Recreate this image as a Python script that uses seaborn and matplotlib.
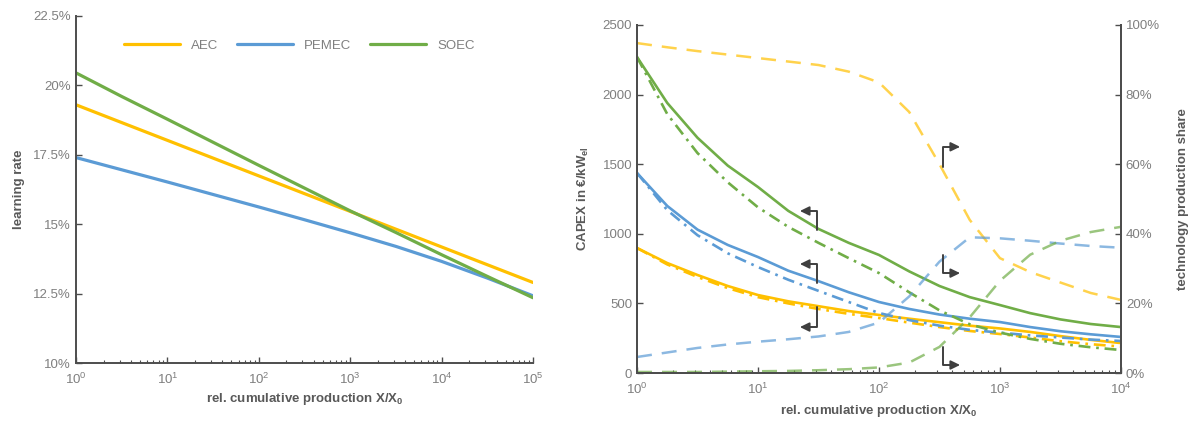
import numpy as np
import pandas as pd
import matplotlib
matplotlib.use("Agg")
import matplotlib.pyplot as plt
import seaborn as sns
from matplotlib.ticker import FuncFormatter, LogLocator, NullFormatter

# ---------------- data ----------------
techs = ["AEC", "PEMEC", "SOEC"]
tech_colors = ["#FFC000", "#5B9BD5", "#70AD47"]

# left panel: learning rate vs. relative cumulative production (log10 exponent)
lr_log_x = [0, 0.5, 1, 1.5, 2, 2.5, 3, 3.5, 4, 4.5, 5]
lr_aec = [19.3, 18.66, 18.02, 17.38, 16.74, 16.1, 15.46, 14.82, 14.18, 13.54, 12.9]
lr_pemec = [17.4, 16.96, 16.52, 16.07, 15.62, 15.16, 14.69, 14.2, 13.66, 13.06, 12.42]
lr_soec = [20.45, 19.6, 18.78, 17.95, 17.12, 16.3, 15.48, 14.7, 13.9, 13.12, 12.35]
lr_yticks = [10, 12.5, 15, 17.5, 20, 22.5]

# right panel
cx_log_x = [0, 0.25, 0.5, 0.75, 1, 1.25, 1.5, 1.75, 2, 2.25, 2.5, 2.75, 3, 3.25, 3.5, 3.75, 4]
capex_aec = [898, 790, 704, 625, 560, 515, 480, 445, 417, 390, 365, 340, 320, 295, 265, 238, 215]
capex_aec_alt = [898, 780, 690, 610, 545, 500, 460, 425, 395, 362, 330, 302, 280, 255, 228, 207, 190]
capex_pemec = [1437, 1200, 1030, 920, 833, 735, 660, 580, 510, 460, 420, 390, 366, 330, 300, 278, 259]
capex_pemec_alt = [1437, 1170, 990, 860, 761, 670, 590, 510, 431, 380, 340, 310, 290, 270, 255, 240, 230]
capex_soec = [2270, 1940, 1690, 1490, 1336, 1165, 1035, 935, 848, 730, 625, 545, 488, 430, 385, 352, 330]
capex_soec_alt = [2270, 1860, 1580, 1370, 1190, 1050, 935, 825, 718, 580, 450, 350, 290, 245, 210, 185, 165]
share_aec = [94.8, 93.6, 92.5, 91.5, 90.5, 89.5, 88.5, 86.6, 83.5, 75, 60, 44, 33, 29, 26, 23, 21]
share_pemec = [4.6, 5.9, 7.2, 8.2, 9, 9.7, 10.5, 11.8, 14.5, 22, 32, 39, 38.7, 38, 37.2, 36.5, 36]
share_soec = [0.3, 0.3, 0.3, 0.4, 0.5, 0.6, 0.8, 1.1, 1.6, 3, 7.5, 16, 26.5, 34, 38, 40.5, 42]
capex_yticks = [0, 500, 1000, 1500, 2000, 2500]
share_yticks = [0, 20, 40, 60, 80, 100]

# ---------------- style ----------------
sns.set_theme(style="ticks")
plt.rcParams["font.family"] = ["Liberation Sans", "DejaVu Sans"]
plt.rcParams["mathtext.default"] = "regular"
TXT = "#7F7F7F"
LBL = "#595959"
SPN = "#4D4D4D"
FS = 9.5

fig = plt.figure(figsize=(11.92, 4.23), dpi=100)
ax1 = fig.add_axes([0.0638, 0.1418, 0.3834, 0.8204])
ax2 = fig.add_axes([0.5344, 0.1182, 0.4060, 0.8227])
ax3 = ax2.twinx()

# ---------- left panel ----------
lr_df = pd.DataFrame({
    "x": np.tile(10.0 ** np.array(lr_log_x), 3),
    "rate": lr_aec + lr_pemec + lr_soec,
    "tech": np.repeat(techs, len(lr_log_x)),
})
sns.lineplot(data=lr_df, x="x", y="rate", hue="tech", hue_order=techs,
             palette=tech_colors, linewidth=2.3, ax=ax1)
ax1.set_xscale("log")
ax1.set_xlim(1, 1e5)
ax1.set_ylim(10, 22.5)
ax1.set_yticks(lr_yticks)
ax1.yaxis.set_major_formatter(FuncFormatter(lambda v, p: f"{v:g}%"))
ax1.set_xlabel("rel. cumulative production X/X$_0$", fontsize=FS, fontweight="bold",
               color=LBL, labelpad=3)
ax1.set_ylabel("learning rate", fontsize=FS, fontweight="bold", color=LBL, labelpad=6)
leg = ax1.legend(loc="center", bbox_to_anchor=(0.488, 0.915), ncol=3, frameon=False,
                 handlelength=4.3, handletextpad=0.8, columnspacing=1.4, fontsize=FS)
for t in leg.get_texts():
    t.set_color(TXT)
for ln in leg.get_lines():
    ln.set_linewidth(2.3)
sns.despine(ax=ax1)

# ---------- right panel ----------
cx = 10.0 ** np.array(cx_log_x)
capex_series = [(capex_aec, capex_aec_alt), (capex_pemec, capex_pemec_alt), (capex_soec, capex_soec_alt)]
share_series = [share_aec, share_pemec, share_soec]
for (solid, alt), col in zip(capex_series, tech_colors):
    sns.lineplot(x=cx, y=alt, color=col, linewidth=1.9, linestyle=(0, (4.5, 2.2, 1, 2.2)), ax=ax2)
    sns.lineplot(x=cx, y=solid, color=col, linewidth=1.9, ax=ax2)
for sh, col in zip(share_series, tech_colors):
    sns.lineplot(x=cx, y=sh, color=col, linewidth=1.8, alpha=0.7, linestyle=(0, (6, 4)), ax=ax3)

ax2.set_xscale("log")
ax2.set_xlim(1, 1e4)
ax2.set_ylim(0, 2500)
ax2.set_yticks(capex_yticks)
ax3.set_ylim(0, 100)
ax3.set_yticks(share_yticks)
ax3.yaxis.set_major_formatter(FuncFormatter(lambda v, p: f"{v:g}%"))
ax2.set_xlabel("rel. cumulative production X/X$_0$", fontsize=FS, fontweight="bold",
               color=LBL, labelpad=5)
ax2.set_ylabel("CAPEX in €/kW$_{el}$", fontsize=FS, fontweight="bold", color=LBL, labelpad=8)
ax3.set_ylabel("technology production share", fontsize=FS, fontweight="bold", color=LBL,
               labelpad=12)
ax2.spines["top"].set_visible(False)
ax3.spines["top"].set_visible(False)

# axis-indicating arrows
arr = dict(arrowstyle="-|>,head_length=0.45,head_width=0.22", color="#3F3F3F", lw=1.4,
           shrinkA=0, shrinkB=0)
for y_from, y_to in [(1027, 1164), (647, 783), (474, 330)]:
    ax2.annotate("", xy=(22.2, y_to), xytext=(30.7, y_from),
                 arrowprops=dict(connectionstyle="angle,angleA=90,angleB=0,rad=0", **arr))
for y_from, y_to in [(59.2, 65.0), (33.9, 28.7), (7.5, 2.3)]:
    ax3.annotate("", xy=(468, y_to), xytext=(338, y_from),
                 arrowprops=dict(connectionstyle="angle,angleA=90,angleB=0,rad=0", **arr))

# common axis cosmetics
for ax in (ax1, ax2, ax3):
    for s in ax.spines.values():
        s.set_color(SPN)
        s.set_linewidth(1.4)
    ax.tick_params(axis="both", which="major", direction="in", length=4, width=1.0,
                   colors=SPN, labelcolor=TXT, labelsize=FS)
    ax.tick_params(axis="both", which="minor", direction="in", length=2.5, width=0.8, colors=SPN)
for ax in (ax1, ax2):
    ax.xaxis.set_major_locator(LogLocator(base=10, numticks=10))
    ax.xaxis.set_minor_locator(LogLocator(base=10, subs=np.arange(2, 10), numticks=100))
    ax.xaxis.set_minor_formatter(NullFormatter())
    ax.tick_params(axis="x", which="major", pad=6)
    ax.grid(False)
ax3.grid(False)
ax3.tick_params(axis="y", which="minor", length=0)
ax2.tick_params(axis="y", which="minor", length=0)
ax1.tick_params(axis="y", which="minor", length=0)

fig.savefig("out.png", dpi=100)
